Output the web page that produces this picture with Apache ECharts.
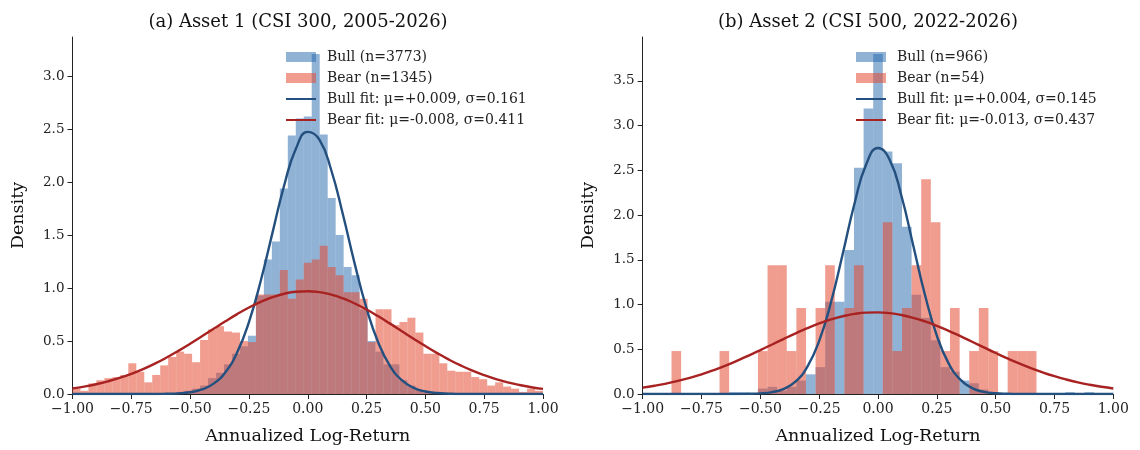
<!DOCTYPE html>
<html>
<head>
<meta charset="utf-8">
<script src="https://cdn.jsdelivr.net/npm/echarts@6/dist/echarts.min.js"></script>
<style>html,body{margin:0;padding:0;background:#fff}#c{width:1140px;height:450px}</style>
</head>
<body>
<div id="c"></div>
<script>
// ---------- data ----------
const titles = ['(a) Asset 1 (CSI 300, 2005-2026)', '(b) Asset 2 (CSI 500, 2022-2026)'];
const xTicks = [-1, -0.75, -0.5, -0.25, 0, 0.25, 0.5, 0.75, 1];
const seriesNamesA = ['Bull (n=3773)', 'Bear (n=1345)', 'Bull fit: μ=+0.009, σ=0.161', 'Bear fit: μ=-0.008, σ=0.411'];
const seriesNamesB = ['Bull (n=966)', 'Bear (n=54)', 'Bull fit: μ=+0.004, σ=0.145', 'Bear fit: μ=-0.013, σ=0.437'];
const binsA = 59; // equal-width bins on [-1, 1]
const binsB = 49;

const bullA = [0,0,0,0,0,0,0,0,0,0, 0.005,0.01,0.01,0.02,0.03,0.05,0.08,0.15,0.2,0.28,
  0.38,0.45,0.55,0.93,1.27,1.44,1.94,2.44,2.6,2.62, 3.21,2.45,1.85,1.5,1.2,1.12,0.8,0.5,0.4,0.28,
  0.28,0.13,0.08,0.04,0.02,0.01,0.005,0,0,0, 0,0,0,0,0,0,0,0,0];
const bearA = [0.05,0.03,0.10,0.13,0.15,0.16,0.18,0.29,0.21,0.11, 0.18,0.27,0.35,0.40,0.38,0.30,0.51,0.61,0.64,0.59,
  0.58,0.50,0.49,0.94,0.94,0.94,1.17,0.90,1.08,1.24, 1.27,1.40,1.20,1.12,0.96,0.96,0.90,0.49,0.80,0.80,
  0.65,0.68,0.72,0.58,0.38,0.38,0.29,0.22,0.21,0.21, 0.16,0.14,0.08,0.11,0.07,0.05,0.02,0.05,0.03];
const bullB = [0,0,0,0,0,0,0,0,0, 0.02,0.02,0,0.06,0.08,0.04,0.08,0.15,0.22,0.3,1.03,
  1.03,1.61,2.53,3.19,3.8,2.71,2.58,1.87,1.11,0.85, 0.6,0.3,0.25,0.15,0.12,0.05,0,0,0,0,
  0,0,0,0,0.02,0,0.02,0,0];
const bearB = [0,0,0,0.48,0,0,0,0,0.48,0, 0,0,0.48,1.44,1.44,0.48,0.96,0,0.96,1.44,
  0,0.96,1.44,0,0,1.92,0.48,0.96,1.44,2.4, 1.92,0.48,0.96,0,0.48,0.96,0.48,0,0.48,0.48,
  0.48,0,0,0,0,0,0,0,0];

// fitted curves read at x = -1, -0.95, ..., 1
const fitX = [-1,-0.95,-0.9,-0.85,-0.8,-0.75,-0.7,-0.65,-0.6,-0.55,-0.5,-0.45,-0.4,-0.35,-0.3,-0.25,-0.2,-0.15,-0.1,-0.05,
  0,0.05,0.1,0.15,0.2,0.25,0.3,0.35,0.4,0.45,0.5,0.55,0.6,0.65,0.7,0.75,0.8,0.85,0.9,0.95,1];
const bullFitA = [0,0,0,0,0,0,0,0,0.002,0.006,0.017,0.043,0.098,0.206,0.393,0.679,1.067,1.521,1.971,2.317,
  2.474,2.399,2.112,1.689,1.226,0.808,0.484,0.263,0.130,0.058,0.024,0.009,0.003,0,0,0,0,0,0,0,0];
const bearFitA = [0.0527,0.0702,0.0921,0.119,0.1516,0.1903,0.2352,0.2865,0.344,0.4069,0.4742,0.5445,0.6159,0.6867,0.7541,0.8163,0.8703,0.9145,0.9467,0.9656,
  0.9705,0.9611,0.9378,0.9016,0.854,0.7971,0.7331,0.6642,0.5931,0.5218,0.4523,0.3862,0.325,0.2695,0.2201,0.1772,0.1405,0.1099,0.0846,0.0642,0.048];
const bullFitB = [0,0,0,0,0,0,0,0,0,0.002,0.007,0.021,0.057,0.140,0.306,0.593,1.022,1.565,2.127,2.567,
  2.750,2.616,2.210,1.658,1.104,0.652,0.343,0.160,0.066,0.024,0.008,0.002,0,0,0,0,0,0,0,0,0];
const bearFitB = [0.0712,0.0917,0.1164,0.1458,0.1804,0.2202,0.2653,0.3155,0.3704,0.4291,0.4907,0.5537,0.6168,0.6781,0.7358,0.788,0.833,0.8691,0.895,0.9096,
  0.9125,0.9035,0.8829,0.8516,0.8107,0.7617,0.7064,0.6465,0.5841,0.5208,0.4584,0.3981,0.3413,0.2888,0.2412,0.1988,0.1618,0.1299,0.103,0.0805,0.0622];

// ---------- styling ----------
const FONT = 'DejaVu Serif';
const BULL_FILL = 'rgba(33,102,172,0.5)';
const BEAR_FILL = 'rgba(227,74,51,0.55)';
const BULL_LINE = '#23507f';
const BEAR_LINE = '#a82222';

function histData(vals, n) {
  return vals.map((v, k) => [-1 + 2 * k / n, -1 + 2 * (k + 1) / n, v]);
}
function histSeries(name, vals, n, idx, color) {
  return {
    type: 'custom', name: name, xAxisIndex: idx, yAxisIndex: idx,
    itemStyle: { color: color }, clip: true,
    encode: { x: [0, 1], y: 2 },
    data: histData(vals, n),
    renderItem: function (params, api) {
      const v = api.value(2);
      if (!v) return null;
      const a = api.coord([api.value(0), v]);
      const b = api.coord([api.value(1), 0]);
      return { type: 'rect', shape: { x: a[0], y: a[1], width: b[0] - a[0], height: b[1] - a[1] },
               style: { fill: color } };
    }
  };
}
function lineSeries(name, ys, idx, color) {
  return {
    type: 'line', name: name, xAxisIndex: idx, yAxisIndex: idx,
    data: fitX.map((x, i) => [x, ys[i]]), smooth: true, symbol: 'none',
    lineStyle: { color: color, width: 2.4 }, itemStyle: { color: color }, z: 5
  };
}
const fmtX = v => (v < 0 ? '\u2212' : '') + Math.abs(v).toFixed(2);
function xAxis(idx) {
  return {
    type: 'value', gridIndex: idx, min: -1, max: 1, interval: 0.25,
    name: 'Annualized Log-Return', nameLocation: 'middle', nameGap: 33,
    nameTextStyle: { fontFamily: FONT, fontSize: 17.5, color: '#111' },
    axisLine: { onZero: false, lineStyle: { color: '#222', width: 1 } },
    axisTick: { show: true, length: 5, lineStyle: { color: '#222' } },
    axisLabel: { fontFamily: FONT, fontSize: 14, color: '#222', margin: 8, formatter: fmtX },
    splitLine: { show: false }
  };
}
function yAxis(idx, max) {
  return {
    type: 'value', gridIndex: idx, min: 0, max: max, interval: 0.5,
    name: 'Density', nameLocation: 'middle', nameGap: 45, nameRotate: 90,
    nameTextStyle: { fontFamily: FONT, fontSize: 17.5, color: '#111' },
    axisLine: { show: true, onZero: false, lineStyle: { color: '#222', width: 1 } },
    axisTick: { show: true, length: 5, lineStyle: { color: '#222' } },
    axisLabel: { fontFamily: FONT, fontSize: 13.5, color: '#222', margin: 8, showMaxLabel: false,
                 formatter: v => v.toFixed(1) },
    splitLine: { show: false }
  };
}
function legend(names, left) {
  const hidden = { opacity: 0 };
  return {
    orient: 'vertical', left: left, top: 50, padding: 0, itemGap: 7,
    itemWidth: 30, itemHeight: 10, selectedMode: false,
    textStyle: { fontFamily: FONT, fontSize: 14, color: '#222', padding: [0, 0, 0, 6] },
    data: [{ name: names[0], icon: 'rect' }, { name: names[1], icon: 'rect' },
           { name: names[2], itemStyle: hidden }, { name: names[3], itemStyle: hidden }]
  };
}

const chart = echarts.init(document.getElementById('c'), null, { renderer: 'canvas' });
chart.setOption({
  animation: false,
  backgroundColor: '#fff',
  title: [
    { text: titles[0], left: 293, top: 8, textAlign: 'center',
      textStyle: { fontFamily: FONT, fontSize: 18, fontWeight: 'normal', color: '#111' } },
    { text: titles[1], left: 863, top: 8, textAlign: 'center',
      textStyle: { fontFamily: FONT, fontSize: 18, fontWeight: 'normal', color: '#111' } }
  ],
  grid: [
    { left: 72.5, right: 597, top: 37, bottom: 54.3 },
    { left: 642.7, right: 26.7, top: 37, bottom: 54.3 }
  ],
  legend: [legend(seriesNamesA, 285), legend(seriesNamesB, 855)],
  xAxis: [xAxis(0), xAxis(1)],
  yAxis: [yAxis(0, 3.37), yAxis(1, 3.99)],
  series: [
    histSeries(seriesNamesA[0], bullA, binsA, 0, BULL_FILL),
    histSeries(seriesNamesA[1], bearA, binsA, 0, BEAR_FILL),
    lineSeries(seriesNamesA[2], bullFitA, 0, BULL_LINE),
    lineSeries(seriesNamesA[3], bearFitA, 0, BEAR_LINE),
    histSeries(seriesNamesB[0], bullB, binsB, 1, BULL_FILL),
    histSeries(seriesNamesB[1], bearB, binsB, 1, BEAR_FILL),
    lineSeries(seriesNamesB[2], bullFitB, 1, BULL_LINE),
    lineSeries(seriesNamesB[3], bearFitB, 1, BEAR_LINE)
  ]
});
</script>
</body>
</html>
